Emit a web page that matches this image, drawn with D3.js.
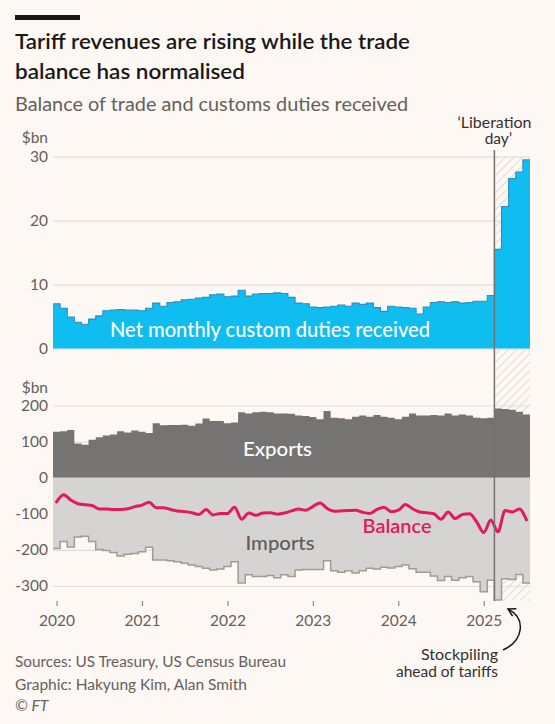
<!DOCTYPE html>
<html>
<head>
<meta charset="utf-8">
<script src="https://cdn.jsdelivr.net/npm/d3@7"></script>
<style>
  body { margin: 0; background: #fdf8f4; }
  svg { display: block; }
</style>
</head>
<body>
<svg id="chart" width="555" height="724"></svg>
<script>
// monthly values, Jan 2020 - Jul 2025
const years = [2020, 2021, 2022, 2023, 2024, 2025];
const duties = [
  7.0, 6.3, 4.9, 4.1, 3.8, 4.6, 5.1, 5.9, 6.0, 6.1, 6.0, 6.0,
  5.9, 6.3, 7.1, 6.6, 7.2, 7.3, 7.6, 7.7, 7.9, 8.0, 8.4, 8.5,
  8.1, 8.2, 9.1, 8.2, 8.5, 8.6, 8.6, 8.7, 8.6, 8.0, 7.1, 7.0,
  6.5, 6.4, 6.5, 6.6, 6.8, 6.6, 7.1, 6.9, 7.1, 6.4, 5.8, 6.6,
  6.5, 6.4, 6.3, 5.4, 6.5, 7.2, 7.3, 7.2, 7.3, 7.1, 7.2, 7.4,
  7.4, 8.3, 15.5, 22.2, 26.6, 27.6, 29.5
];
const exportsBn = [
  127, 129, 132, 95, 91, 105, 112, 117, 120, 129, 125, 131,
  127, 124, 151, 145, 146, 146, 147, 144, 150, 164, 157, 157,
  151, 153, 181, 178, 181, 183, 181, 178, 178, 177, 172, 171,
  168, 162, 185, 166, 165, 162, 169, 172, 169, 174, 169, 166,
  162, 169, 178, 172, 172, 174, 172, 178, 172, 175, 172, 166,
  165, 166, 192, 190, 188, 183, 175
];
const importsBn = [
  -196, -177, -192, -164, -162, -177, -199, -202, -207, -217, -212, -210,
  -205, -193, -228, -228, -230, -233, -237, -242, -246, -251, -256, -253,
  -246, -233, -292, -269, -274, -274, -271, -277, -269, -274, -256, -254,
  -254, -254, -230, -258, -262, -258, -264, -258, -251, -253, -248, -250,
  -246, -242, -252, -262, -262, -272, -285, -274, -284, -277, -274, -288,
  -316, -284, -339, -280, -282, -268, -292
];
const balance = [
  -67, -47, -62, -72, -75, -77, -87, -87, -88, -88, -86, -80,
  -76, -68, -83, -83, -88, -92, -94, -97, -102, -88, -103, -99,
  -99, -82, -115, -98, -104, -98, -97, -101, -98, -92, -87, -90,
  -80, -70, -85, -93, -92, -91, -90, -96, -99, -88, -82, -94,
  -90, -74, -86, -95, -97, -100, -115, -95, -113, -102, -100, -122,
  -152, -117, -150, -91, -95, -87, -117
];
const topTicks = [0, 10, 20, 30];
const bottomTicks = [-300, -200, -100, 0, 100, 200];
const liberationMonth = 62; // index of the first month after 'Liberation day'

const font = "Lato, 'Noto Sans', sans-serif";
const grey = "#66605c";
const ink = "#1a1817";

const svg = d3.select("#chart").attr("font-family", font);
svg.append("rect").attr("width", 555).attr("height", 724).attr("fill", "#fdf8f4");

const defs = svg.append("defs");
defs.append("pattern")
  .attr("id", "hatch")
  .attr("patternUnits", "userSpaceOnUse")
  .attr("width", 6).attr("height", 6)
  .attr("patternTransform", "rotate(45)")
  .append("line")
  .attr("x1", 0).attr("y1", 0).attr("x2", 0).attr("y2", 6)
  .attr("stroke", "#e4dbd3").attr("stroke-width", 2.2);
defs.append("marker")
  .attr("id", "arrow")
  .attr("viewBox", "0 0 10 10")
  .attr("refX", 8).attr("refY", 5)
  .attr("markerWidth", 7).attr("markerHeight", 7)
  .attr("orient", "auto")
  .append("path")
  .attr("d", "M1,1 L8,5 L1,9")
  .attr("fill", "none").attr("stroke", ink).attr("stroke-width", 1.5);

function label(x, y, txt, size, fill, opts) {
  opts = opts || {};
  const t = svg.append("text")
    .attr("x", x).attr("y", y)
    .attr("font-size", size)
    .attr("fill", fill)
    .attr("text-anchor", opts.anchor || "start")
    .attr("font-weight", opts.weight || 400)
    .text(txt);
  if (opts.italic) t.attr("font-style", "italic");
  if (opts.w) t.attr("textLength", opts.w).attr("lengthAdjust", "spacingAndGlyphs");
  return t;
}

// header
svg.append("rect").attr("x", 15).attr("y", 15).attr("width", 65).attr("height", 5).attr("fill", ink);
label(15, 48.5, "Tariff revenues are rising while the trade", 21.5, ink, {weight: 600, w: 395});
label(15, 78.5, "balance has normalised", 21.5, ink, {weight: 600, w: 230});
label(15, 110.5, "Balance of trade and customs duties received", 18.5, grey, {w: 393});

// scales
const x = d3.scaleLinear().domain([0, duties.length]).range([53, 530]);
const yTop = d3.scaleLinear().domain([0, 30]).range([348.5, 156.7]);
const yBot = d3.scaleLinear().domain([-300, 200]).range([586, 405.5]);

function styleAxis(g) {
  g.attr("font-family", font).attr("font-size", 15.5);
  g.select(".domain").remove();
  g.selectAll(".tick text").attr("fill", grey);
}

const gTop = svg.append("g")
  .attr("transform", "translate(53,0)")
  .call(d3.axisLeft(yTop).tickValues(topTicks).tickSize(-(530 - 53)).tickPadding(5).tickFormat(d => String(d)));
styleAxis(gTop);
gTop.selectAll(".tick line").attr("stroke", "#e4ddd6").attr("stroke-width", 1.2);

const gBot = svg.append("g")
  .attr("transform", "translate(53,0)")
  .call(d3.axisLeft(yBot).tickValues(bottomTicks).tickSize(-(530 - 53)).tickPadding(5).tickFormat(d => String(d)));
styleAxis(gBot);
gBot.selectAll(".tick line").attr("stroke", "#e4ddd6").attr("stroke-width", 1.2);

label(48, 143, "$bn", 15.5, grey, {anchor: "end"});
label(48, 393, "$bn", 15.5, grey, {anchor: "end"});

// hatched period after 'Liberation day'
svg.append("rect")
  .attr("x", x(liberationMonth)).attr("y", yTop(30))
  .attr("width", x(duties.length) - x(liberationMonth))
  .attr("height", 601 - yTop(30))
  .attr("fill", "url(#hatch)");

const steps = arr => arr.map((v, i) => [i, v]).concat([[arr.length, arr[arr.length - 1]]]);

// customs duties
svg.append("path")
  .datum(steps(duties))
  .attr("fill", "#0fbdf1")
  .attr("d", d3.area().curve(d3.curveStepAfter).x(d => x(d[0])).y0(yTop(0)).y1(d => yTop(d[1])));
svg.append("path")
  .datum(steps(duties))
  .attr("fill", "none").attr("stroke", "#2a8fc4").attr("stroke-width", 1.1)
  .attr("d", d3.line().curve(d3.curveStepAfter).x(d => x(d[0])).y(d => yTop(d[1])));

// exports and imports
svg.append("path")
  .datum(steps(exportsBn))
  .attr("fill", "#767472")
  .attr("d", d3.area().curve(d3.curveStepAfter).x(d => x(d[0])).y0(yBot(0)).y1(d => yBot(d[1])));
svg.append("path")
  .datum(steps(importsBn))
  .attr("fill", "#d6d4d2")
  .attr("d", d3.area().curve(d3.curveStepAfter).x(d => x(d[0])).y0(yBot(0)).y1(d => yBot(d[1])));
svg.append("path")
  .datum(steps(importsBn))
  .attr("fill", "none").attr("stroke", "#9e9b98").attr("stroke-width", 1.5)
  .attr("d", d3.line().curve(d3.curveStepAfter).x(d => x(d[0])).y(d => yBot(d[1])));

// balance
svg.append("path")
  .datum(balance)
  .attr("fill", "none").attr("stroke", "#e3195b").attr("stroke-width", 3)
  .attr("stroke-linejoin", "round").attr("stroke-linecap", "round")
  .attr("d", d3.line().curve(d3.curveMonotoneX).x((d, i) => x(i + 0.5)).y(d => yBot(d)));

// x axis
const gx = svg.append("g")
  .attr("transform", "translate(0,601)")
  .call(d3.axisBottom(x).tickValues(years.map((yr, k) => k * 12 + 0.5)).tickSize(5).tickPadding(8.5)
    .tickFormat((d, k) => years[k]));
styleAxis(gx);
gx.selectAll(".tick line").attr("stroke", "#8d8883").attr("stroke-width", 1.2);

// series labels
label(110, 336.5, "Net monthly custom duties received", 20.5, "#ffffff", {weight: 500, w: 320});
label(243, 455.5, "Exports", 20, "#ffffff", {weight: 500, w: 69});
label(245.5, 550, "Imports", 20, "#5f5b58", {weight: 500, w: 69});
label(362.5, 532.5, "Balance", 20, "#e3195b", {weight: 600, w: 69});

// 'Liberation day' marker
svg.append("line")
  .attr("x1", x(liberationMonth)).attr("x2", x(liberationMonth))
  .attr("y1", 150).attr("y2", 601)
  .attr("stroke", "#77726e").attr("stroke-width", 1.5);
label(x(liberationMonth), 127.5, "\u2018Liberation", 15.5, "#33302e", {anchor: "middle", w: 74});
label(x(liberationMonth) + 4, 144, "day\u2019", 15.5, "#33302e", {anchor: "middle"});

// stockpiling annotation
label(498, 660, "Stockpiling", 15.5, "#33302e", {anchor: "end", w: 77});
label(498, 676.5, "ahead of tariffs", 15.5, "#33302e", {anchor: "end", w: 102});
svg.append("path")
  .attr("d", "M503,650 C523,641 527,619 508,609")
  .attr("fill", "none").attr("stroke", ink).attr("stroke-width", 1.5)
  .attr("marker-end", "url(#arrow)");

// footer
label(15, 667, "Sources: US Treasury, US Census Bureau", 15.5, grey, {w: 271});
label(15, 690, "Graphic: Hakyung Kim, Alan Smith", 15.5, grey, {w: 232});
label(15, 711, "\u00A9 FT", 15.5, grey, {italic: true});
</script>
</body>
</html>
